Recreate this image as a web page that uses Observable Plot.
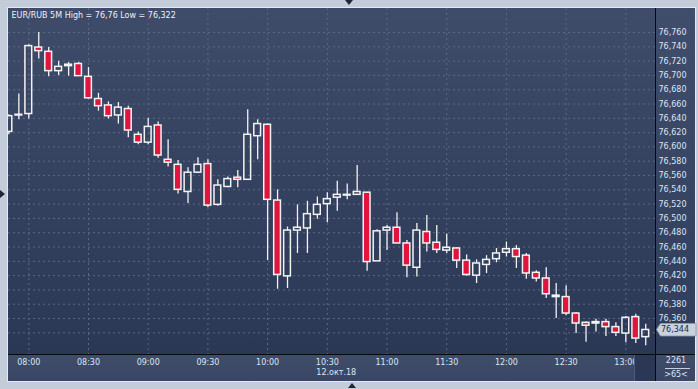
<!DOCTYPE html>
<html><head><meta charset="utf-8">
<script src="https://cdn.jsdelivr.net/npm/d3@7"></script>
<script src="https://cdn.jsdelivr.net/npm/@observablehq/plot@0.6"></script>
<style>
html,body{margin:0;padding:0;}
body{width:698px;height:389px;position:relative;overflow:hidden;background:#c3ccd8;font-family:"DejaVu Sans",sans-serif;}
.abs{position:absolute;}
</style></head><body>
<div class="abs" style="left:7px;top:7px;width:689px;height:375px;background:#e4e9f0"></div>
<div class="abs" style="left:8px;top:8px;width:687px;height:373px;background:#3b4866"></div>
<div class="abs" style="left:8px;top:8px;width:647px;height:346px;background:linear-gradient(#3e4b69,#2a3856)"></div>
<div class="abs" style="left:656px;top:8px;width:39px;height:346px;background:linear-gradient(#404d6b,#2f3d5b)"></div>
<div class="abs" style="left:8px;top:355px;width:687px;height:26px;background:linear-gradient(#3f4d6b,#394764)"></div>
<div id="chart" class="abs" style="left:0;top:0;width:698px;height:389px"></div>
<div class="abs" style="left:634px;top:355px;width:21px;height:26px;background:#2b3855;border-left:1px solid #4f5b76"></div>
<div class="abs" style="left:655px;top:8px;width:1px;height:373px;background:#05080d"></div>
<div class="abs" style="left:8px;top:354px;width:687px;height:1px;background:#05080d"></div>
<div id="c1" class="abs" style="left:656px;top:356px;width:40px;text-align:center;font-size:8px;color:#dce6f4;line-height:10px"></div>
<div class="abs" style="left:665px;top:368px;width:25px;height:1px;background:#c5cfdd"></div>
<div id="c2" class="abs" style="left:656px;top:370px;width:40px;text-align:center;font-size:8px;color:#dce6f4;line-height:10px"></div>
<div class="abs" style="left:345px;top:0;width:0;height:0;border-left:4px solid transparent;border-right:4px solid transparent;border-top:5px solid #1d2738"></div>
<div class="abs" style="left:348px;top:383px;width:0;height:0;border-left:4px solid transparent;border-right:4px solid transparent;border-bottom:5px solid #1d2738"></div>
<div class="abs" style="left:0;top:190px;width:0;height:0;border-top:4px solid transparent;border-bottom:4px solid transparent;border-left:5px solid #1d2738"></div>
<script>
const title = "EUR/RUB 5M High = 76,76 Low = 76,322";
const dateLabel = "12.окт.18";
const dateAt = "10:30";
const cornerTop = "2261";
const cornerBottom = ">65<";

const times = ["07:50","07:55","08:00","08:05","08:10","08:15","08:20","08:25","08:30","08:35","08:40","08:45","08:50","08:55","09:00","09:05","09:10","09:15","09:20","09:25","09:30","09:35","09:40","09:45","09:50","09:55","10:00","10:05","10:10","10:15","10:20","10:25","10:30","10:35","10:40","10:45","10:50","10:55","11:00","11:05","11:10","11:15","11:20","11:25","11:30","11:35","11:40","11:45","11:50","11:55","12:00","12:05","12:10","12:15","12:20","12:25","12:30","12:35","12:40","12:45","12:50","12:55","13:00","13:05","13:10"];
const open = [76.621,76.644,76.646,76.739,76.733,76.706,76.713,76.716,76.698,76.667,76.658,76.644,76.653,76.617,76.606,76.630,76.582,76.575,76.537,76.564,76.576,76.519,76.544,76.557,76.554,76.615,76.631,76.525,76.419,76.483,76.486,76.505,76.520,76.529,76.532,76.533,76.536,76.440,76.483,76.487,76.465,76.431,76.481,76.466,76.455,76.458,76.441,76.420,76.435,76.443,76.452,76.457,76.448,76.424,76.416,76.390,76.390,76.367,76.354,76.353,76.355,76.348,76.339,76.362,76.334];
const high = [76.645,76.674,76.743,76.760,76.739,76.720,76.718,76.718,76.711,76.675,76.663,76.662,76.657,76.621,76.640,76.635,76.610,76.581,76.571,76.585,76.582,76.554,76.558,76.567,76.652,76.638,76.632,76.540,76.488,76.519,76.524,76.530,76.536,76.552,76.548,76.574,76.536,76.484,76.490,76.508,76.469,76.493,76.504,76.490,76.478,76.459,76.449,76.442,76.448,76.458,76.467,76.462,76.451,76.427,76.431,76.409,76.406,76.368,76.355,76.359,76.359,76.354,76.363,76.366,76.352];
const low = [76.617,76.638,76.639,76.723,76.698,76.700,76.699,76.699,76.667,76.650,76.639,76.632,76.613,76.603,76.603,76.584,76.572,76.534,76.521,76.563,76.515,76.517,76.543,76.543,76.553,76.582,76.441,76.401,76.402,76.451,76.451,76.499,76.494,76.510,76.526,76.533,76.426,76.440,76.455,76.465,76.417,76.418,76.453,76.451,76.451,76.430,76.419,76.409,76.423,76.438,76.446,76.430,76.415,76.411,76.388,76.360,76.364,76.339,76.327,76.341,76.335,76.335,76.326,76.325,76.322];
const close = [76.643,76.645,76.741,76.734,76.706,76.712,76.715,76.699,76.668,76.657,76.643,76.655,76.623,76.606,76.628,76.588,76.578,76.540,76.564,76.575,76.518,76.546,76.555,76.554,76.617,76.632,76.526,76.421,76.483,76.487,76.506,76.519,76.527,76.533,76.533,76.537,76.439,76.482,76.487,76.465,76.434,76.483,76.465,76.456,76.459,76.441,76.421,76.437,76.442,76.451,76.457,76.446,76.423,76.416,76.394,76.392,76.367,76.353,76.350,76.355,76.348,76.340,76.361,76.332,76.344];

const xTickLabels = ["08:00","08:30","09:00","09:30","10:00","10:30","11:00","11:30","12:00","12:30","13:00"];
const yTickLabels = ["76,760","76,740","76,720","76,700","76,680","76,660","76,640","76,620","76,600","76,580","76,560","76,540","76,520","76,500","76,480","76,460","76,440","76,420","76,400","76,380","76,360"];
const yGridLabels = yTickLabels.concat(["76,340"]);

const toMin = s => { const [h, m] = s.split(":").map(Number); return h * 60 + m; };
const num = s => parseFloat(s.replace(",", "."));
const fmt = v => v.toFixed(3).replace(".", ",");

const candles = times.map((t, i) => ({t: toMin(t), open: open[i], high: high[i], low: low[i], close: close[i]}));
const up = candles.filter(d => d.close >= d.open);
const down = candles.filter(d => d.close < d.open);
const xTicks = xTickLabels.map(toMin);
const yTicks = yTickLabels.map(num);
const yGrid = yGridLabels.map(num);

const WHITE = "#f3f3f3", RED = "#e0143c", GRID = "#5a6889", TXT = "#dce6f4";
const half = 1.7;

const chart = Plot.plot({
  width: 698, height: 389,
  marginLeft: 8, marginRight: 43, marginTop: 8, marginBottom: 35,
  style: {background: "transparent", fontFamily: "'DejaVu Sans', sans-serif", fontSize: "8px", color: TXT},
  x: {domain: [469.8, 794.9], ticks: xTicks, tickFormat: d => xTickLabels[xTicks.indexOf(d)], tickSize: 0, tickPadding: 5, label: null},
  y: {axis: "right", domain: [76.3097, 76.7936], ticks: yTicks, tickFormat: fmt, tickSize: 0, tickPadding: 3, label: null},
  marks: [
    Plot.ruleY(yGrid, {stroke: GRID, strokeDasharray: "2,3"}),
    Plot.ruleX(xTicks, {stroke: GRID, strokeDasharray: "2,3"}),
    Plot.ruleX(candles, {x: "t", y1: "high", y2: d => Math.max(d.open, d.close), stroke: WHITE, strokeWidth: 1.3, clip: true}),
    Plot.ruleX(candles, {x: "t", y1: d => Math.min(d.open, d.close), y2: "low", stroke: WHITE, strokeWidth: 1.3, clip: true}),
    Plot.rect(up, {x1: d => d.t - half, x2: d => d.t + half, y1: "open", y2: "close", fill: "none", stroke: WHITE, strokeWidth: 1.5, clip: true}),
    Plot.rect(down, {x1: d => d.t - half, x2: d => d.t + half, y1: "open", y2: "close", fill: RED, stroke: WHITE, strokeWidth: 1.5, clip: true}),
    Plot.text([title], {frameAnchor: "top-left", text: d => d, dx: 3, dy: 4, lineAnchor: "top", textAnchor: "start", fill: "#eef2f8", fontSize: 8}),
    Plot.text([dateLabel], {x: () => toMin(dateAt), frameAnchor: "bottom", text: d => d, textAnchor: "start", dx: -11, dy: 20, fill: TXT, fontSize: 8})
  ]
});
document.getElementById("chart").appendChild(chart);

// current price tag on the right axis
const last = close[close.length - 1];
const ys = chart.scale("y");
const yy = ys.apply ? ys.apply(last) : d3.scaleLinear(ys.domain, ys.range)(last);
const g = d3.select(chart).append("g");
g.append("path")
  .attr("d", `M656.5,${yy} L660.5,${yy - 6} L696,${yy - 6} L696,${yy + 6.5} L660.5,${yy + 6.5} Z`)
  .attr("fill", "#c9d1dc").attr("stroke", "#8e9ab0").attr("stroke-width", 0.8);
g.append("text").attr("x", 661).attr("y", yy).attr("dy", "0.35em")
  .attr("text-anchor", "start")
  .attr("fill", "#1c2a44").attr("font-size", 8).attr("font-family", "'DejaVu Sans', sans-serif")
  .text(fmt(last));

document.getElementById("c1").textContent = cornerTop;
document.getElementById("c2").textContent = cornerBottom;
</script>
</body></html>
